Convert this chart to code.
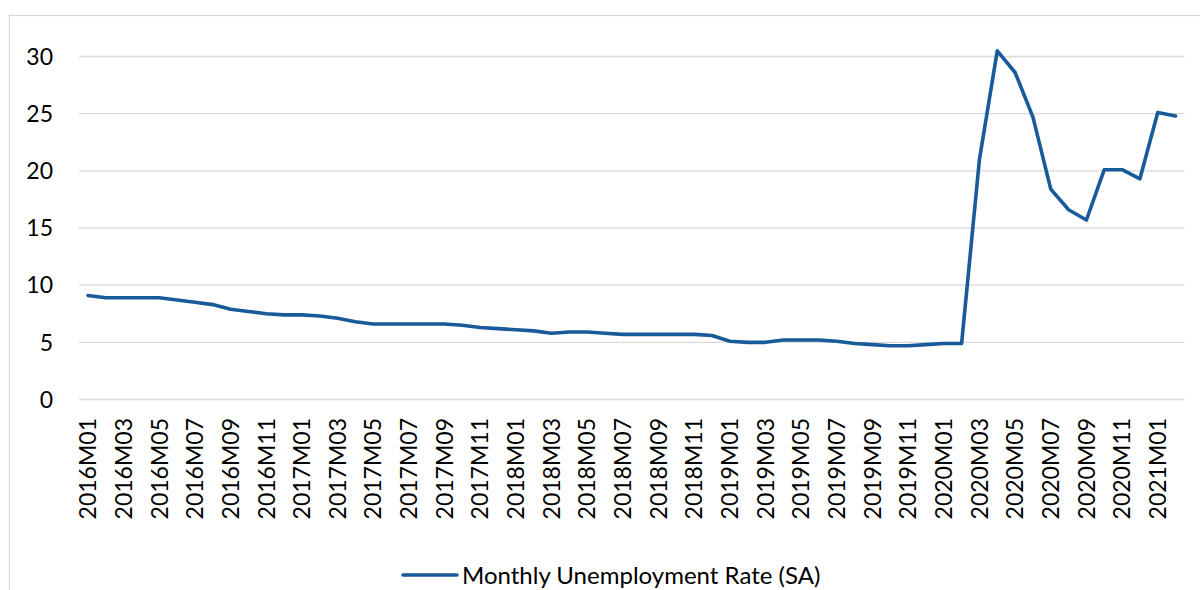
<!DOCTYPE html>
<html>
<head>
<meta charset="utf-8">
<script src="https://cdn.jsdelivr.net/npm/d3@7"></script>
<style>
  html, body { margin: 0; padding: 0; background: #fff; }
  svg { display: block; font-family: Lato, 'Open Sans', sans-serif; }
</style>
</head>
<body>
<div id="chart"></div>
<script>
// months shown on the x axis, 2016M01 .. 2021M02
const years = [2016, 2017, 2018, 2019, 2020, 2021]
const months = years.flatMap(y =>
  d3.range(1, 13).map(m => `${y}M${String(m).padStart(2, '0')}`),
).slice(0, 62)

// monthly unemployment rate (SA)
const rate = [
  9.1, 8.9, 8.9, 8.9, 8.9, 8.7, 8.5, 8.3, 7.9, 7.7, 7.5, 7.4,
  7.4, 7.3, 7.1, 6.8, 6.6, 6.6, 6.6, 6.6, 6.6, 6.5, 6.3, 6.2,
  6.1, 6.0, 5.8, 5.9, 5.9, 5.8, 5.7, 5.7, 5.7, 5.7, 5.7, 5.6,
  5.1, 5.0, 5.0, 5.2, 5.2, 5.2, 5.1, 4.9, 4.8, 4.7, 4.7, 4.8,
  4.9, 4.9, 21.0, 30.5, 28.6, 24.7, 18.4, 16.6, 15.7, 20.1, 20.1, 19.3,
  25.1, 24.8,
]

const yTicks = [0, 5, 10, 15, 20, 25, 30]
const seriesName = 'Monthly Unemployment Rate (SA)'

const width = 1200
const height = 590
const margin = { top: 56.5, left: 79, right: 15.5, bottom: 190.5 }

const svg = d3
  .select('#chart')
  .append('svg')
  .attr('width', width)
  .attr('height', height)

// outer chart frame
svg
  .append('rect')
  .attr('x', 9.5)
  .attr('y', 15.5)
  .attr('width', 1200)
  .attr('height', 600)
  .attr('fill', 'none')
  .attr('stroke', '#d9d9d9')
  .attr('stroke-width', 1.3)

const x = d3
  .scaleBand()
  .domain(months)
  .range([margin.left, width - margin.right])

const y = d3
  .scaleLinear()
  .domain([0, 30])
  .range([height - margin.bottom, margin.top])

// gridlines
svg
  .append('g')
  .selectAll('line')
  .data(yTicks)
  .join('line')
  .attr('x1', margin.left)
  .attr('x2', width - margin.right)
  .attr('y1', d => y(d))
  .attr('y2', d => y(d))
  .attr('stroke', '#d9d9d9')
  .attr('stroke-width', 1.3)

// y labels
svg
  .append('g')
  .selectAll('text')
  .data(yTicks)
  .join('text')
  .attr('x', 53)
  .attr('y', d => y(d))
  .attr('dy', '0.36em')
  .attr('text-anchor', 'end')
  .attr('font-size', 23)
  .attr('fill', '#000')
  .text(d => d)

// x labels, every second month
svg
  .append('g')
  .selectAll('text')
  .data(months.filter((d, i) => i % 2 === 0))
  .join('text')
  .attr(
    'transform',
    d => `translate(${x(d) + x.bandwidth() / 2}, 418) rotate(-90)`,
  )
  .attr('dy', '0.36em')
  .attr('text-anchor', 'end')
  .attr('font-size', 23)
  .attr('fill', '#000')
  .text(d => d)

// the line
const line = d3
  .line()
  .x((d, i) => x(months[i]) + x.bandwidth() / 2)
  .y(d => y(d))

svg
  .append('path')
  .datum(rate)
  .attr('d', line)
  .attr('fill', 'none')
  .attr('stroke', '#185a9a')
  .attr('stroke-width', 3.6)
  .attr('stroke-linejoin', 'round')
  .attr('stroke-linecap', 'round')

// legend
const legend = svg.append('g').attr('transform', 'translate(403, 575)')
legend
  .append('line')
  .attr('x1', 0)
  .attr('x2', 54)
  .attr('stroke', '#185a9a')
  .attr('stroke-width', 3.6)
  .attr('stroke-linecap', 'round')
legend
  .append('text')
  .attr('x', 59)
  .attr('dy', '0.36em')
  .attr('font-size', 24)
  .attr('fill', '#000')
  .text(seriesName)
</script>
</body>
</html>
